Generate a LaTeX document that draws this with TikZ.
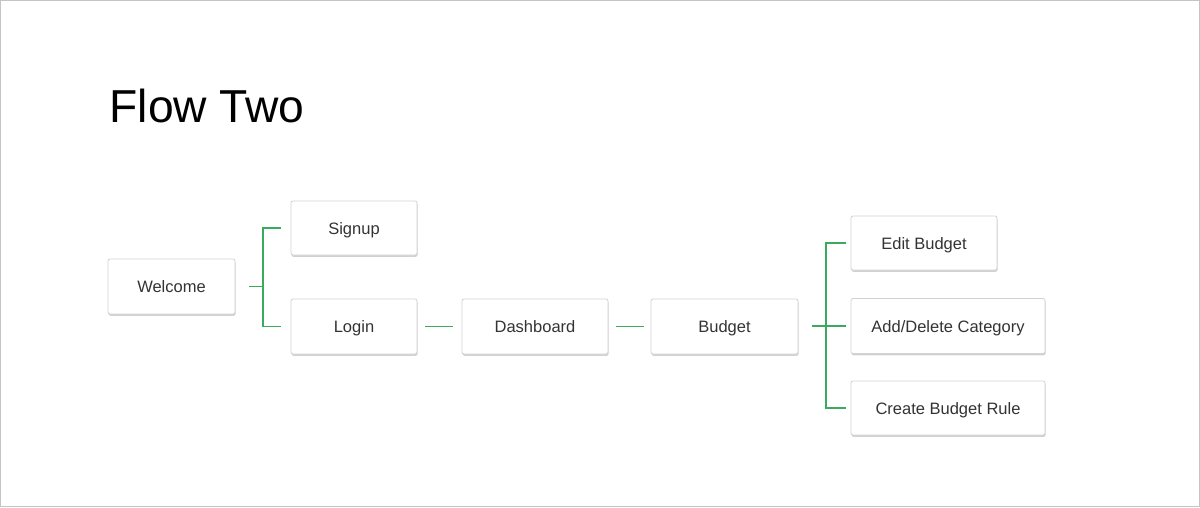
\documentclass[tikz,border=0pt]{standalone}
\usepackage{fontspec}
\setmainfont{Liberation Sans}
\usetikzlibrary{shadows}
\definecolor{linkgreen}{HTML}{3BAA5E}
\definecolor{boxline}{HTML}{D2D2D2}
\definecolor{txt}{HTML}{333333}
\definecolor{frame}{HTML}{C4C4C4}
\begin{document}
\begin{tikzpicture}[x=1pt,y=-1pt,
  screen/.style={draw=boxline,line width=0.8pt,fill=white,rounded corners=2pt,
    minimum height=55pt,inner sep=0pt,text=txt,font=\fontsize{16.5}{19}\selectfont,
    text height=13.5pt,text depth=1.5pt,
    drop shadow={shadow xshift=0.6pt,shadow yshift=-1.8pt,opacity=0.3,fill=black!60}},
  link/.style={draw=linkgreen,line width=1.2pt}]
\useasboundingbox (0,0) rectangle (1200,507);
\draw[frame,line width=1pt] (0.5,0.5) rectangle (1199.5,506.5);
\node[anchor=base west,font=\fontsize{46.2}{50}\selectfont,text=black] (title) at (106,122) {Flow Two};
\node[screen,minimum width=127pt] (welcome) at (171.5,286.5) {Welcome};
\node[screen,minimum width=126pt,minimum height=54pt] (signup) at (354,228) {Signup};
\node[screen,minimum width=126pt] (login) at (354,326.5) {Login};
\node[screen,minimum width=146pt] (dash) at (535,326.5) {Dashboard};
\node[screen,minimum width=147pt] (budget) at (724.5,326.5) {Budget};
\node[screen,minimum width=146pt,minimum height=54pt] (edit) at (924,243) {Edit Budget};
\node[screen,minimum width=194pt] (adddel) at (948,326) {Add/Delete Category};
\node[screen,minimum width=194pt,minimum height=54pt] (rule) at (948,408) {Create Budget Rule};
\coordinate (j1) at (263,286.5);
\coordinate (j2) at (826,326);
\draw[link] ([xshift=14pt]welcome.east) -- (j1);
\draw[link] ([xshift=-10pt]signup.west) -| (j1) |- ([xshift=-10pt]login.west);
\draw[link] ([xshift=8pt]login.east) -- ([xshift=-9pt]dash.west);
\draw[link] ([xshift=8pt]dash.east) -- ([xshift=-7pt]budget.west);
\draw[link] ([xshift=14pt]budget.east |- j2) -- ([xshift=-5pt]adddel.west);
\draw[link] ([xshift=-5pt]edit.west) -| (j2) |- ([xshift=-5pt]rule.west);
\end{tikzpicture}
\end{document}
